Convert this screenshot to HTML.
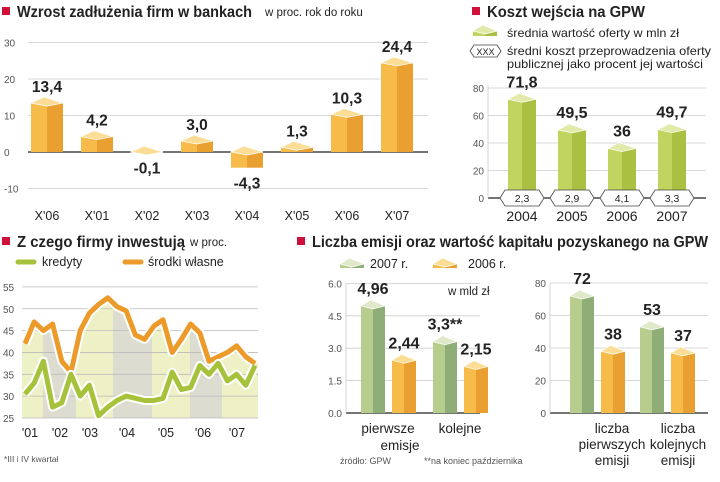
<!DOCTYPE html>
<html><head><meta charset="utf-8"><style>
body{margin:0;background:#fff;width:720px;height:477px;overflow:hidden}
svg{font-family:"Liberation Sans",sans-serif}
</style></head><body>
<svg id="s" width="720" height="477" viewBox="0 0 720 477" xmlns="http://www.w3.org/2000/svg"></svg>
<script>
// Chart 1 data
const c1Cats=["X'06","X'01","X'02","X'03","X'04","X'05","X'06","X'07"];
const c1Vals=[13.4,4.2,-0.1,3.0,-4.3,1.3,10.3,24.4];
const c1Labels=["13,4","4,2","-0,1","3,0","-4,3","1,3","10,3","24,4"];
const c1Ticks=[30,20,10,0,-10];
// Chart 2 data
const c2Cats=["2004","2005","2006","2007"];
const c2Vals=[71.8,49.5,36,49.7];
const c2Labels=["71,8","49,5","36","49,7"];
const c2Cost=["2,3","2,9","4,1","3,3"];
const c2Ticks=[80,60,40,20,0];
// Chart 3 data
const c3Years=["'01","'02","'03","'04","'05","'06","'07"];
const c3Kredyty=[30.5,33,38,27.5,28.5,35,30,32.5,25.5,27.5,29,30,29.5,29,29,29.5,35.5,31.5,32,37,35,37.5,33.5,35,32.5,37];
const c3Wlasne=[42,47,45,46.5,38,35.5,45,49,51,52.5,50.5,49.5,44,43,46,47.5,40,43,46.5,44.5,38,39,40,41.5,39,37.5];
const c3Ticks=[55,50,45,40,35,30,25];
// Chart 4 data
const c4Cats=["pierwsze","kolejne"];
const c4V2007=[4.96,3.3];
const c4V2006=[2.44,2.15];
const c4L2007=["4,96","3,3**"];
const c4L2006=["2,44","2,15"];
const c4Ticks=[6.0,4.5,3.0,1.5,0.0];
// Chart 5 data
const c5Cats=["liczba pierwszych emisji","liczba kolejnych emisji"];
const c5V2007=[72,53];
const c5V2006=[38,37];
const c5Ticks=[80,60,40,20,0];

const S=document.getElementById('s');
const NS='http://www.w3.org/2000/svg';
function mk(tag,attrs,parent){const e=document.createElementNS(NS,tag);for(const k in attrs)e.setAttribute(k,attrs[k]);(parent||S).appendChild(e);return e;}
function txt(x,y,t,size,opts,parent){const e=mk('text',Object.assign({x:x,y:y,'font-size':size,fill:'#222'},opts||{}),parent);e.textContent=t;return e;}
const OR={l:'#f6bb48',r:'#eaa030',t:'#fbdd95'};
const GR={l:'#c2d460',r:'#a9c043',t:'#e1eaa8'};
const SG={l:'#b7cd8e',r:'#8fad77',t:'#dfe9c9'};
function bar3d(g,cx,w,y0,y1,col){
  const top=Math.min(y0,y1),bot=Math.max(y0,y1),h=6;
  mk('rect',{x:cx-w/2,y:top,width:w/2,height:bot-top,fill:col.l},g);
  mk('rect',{x:cx,y:top,width:w/2,height:bot-top,fill:col.r},g);
  mk('polygon',{points:`${cx-w/2},${top} ${cx-w*0.1},${top-h} ${cx+w/2},${top} ${cx},${top+h*0.5}`,fill:col.t,stroke:'#fff','stroke-width':0.7},g);
}
function title(x,y,t,len,sub,subx){
  const g=mk('g',{});
  
  
  mk('rect',{x:x,y:y-10,width:8,height:8,fill:'#d0103a'},g);
  txt(x+15,y,t,15.5,{'font-weight':'bold',textLength:len,lengthAdjust:'spacingAndGlyphs'},g);
  if(sub)txt(subx,y-1,sub,11.5,{},g);
}
// ---------- Chart 1
title(2,17,'Wzrost zadłużenia firm w bankach',235,'w proc. rok do roku',265);
{
 const g=mk('g',{});
 const y=v=>152-v*3.65, x=i=>47+i*50;
 c1Ticks.forEach(t=>{mk('line',{x1:28,x2:428,y1:y(t),y2:y(t),stroke:t===0?'#222':'#ccc','stroke-width':t===0?1.2:0.8},g);txt(4,y(t)+4,String(t),10,{fill:'#555'},g);});
 c1Vals.forEach((v,i)=>{
  const b=mk('g',{},g);
  bar3d(b,x(i),32,y(0),y(v),OR);
  const ly=v>=0?y(v)-11:y(v)+21;
  txt(x(i),ly,c1Labels[i],15.5,{'font-weight':'bold','text-anchor':'middle'},b);
  txt(x(i),220,c1Cats[i],12.5,{'text-anchor':'middle'},b);
 });
}
// ---------- Chart 2
title(472,17,'Koszt wejścia na GPW',158);
{
 const g=mk('g',{});
 bar3d(g,485,24,31,36,GR);
 txt(507,37,'średnia wartość oferty w mln zł',12,{textLength:172,lengthAdjust:'spacingAndGlyphs'},g);
 mk('polygon',{points:'470,51 474,45 497,45 501,51 497,57 474,57',fill:'#fff',stroke:'#444','stroke-width':0.8},g);
 txt(485.5,55,'XXX',9,{'text-anchor':'middle'},g);
 txt(507,55,'średni koszt przeprowadzenia oferty',12,{textLength:204,lengthAdjust:'spacingAndGlyphs'},g);
 txt(507,68,'publicznej jako procent jej wartości',12,{textLength:196,lengthAdjust:'spacingAndGlyphs'},g);
 const y=v=>198-v*1.375, x=i=>522+i*50;
 c2Ticks.forEach(t=>{mk('line',{x1:488,x2:706,y1:y(t),y2:y(t),stroke:t===0?'#222':'#ccc','stroke-width':t===0?1.2:0.8},g);txt(484,y(t)+4,String(t),10,{fill:'#555','text-anchor':'end'},g);});
 mk('line',{x1:488,x2:488,y1:85,y2:198,stroke:'#ccc','stroke-width':0.8},g);
 c2Vals.forEach((v,i)=>{
  const b=mk('g',{},g);
  bar3d(b,x(i),28,y(0),y(v),GR);
  txt(x(i),y(v)-12,c2Labels[i],16,{'font-weight':'bold','text-anchor':'middle'},b);
  const c=x(i);
  mk('polygon',{points:`${c-22},198 ${c-17},190 ${c+17},190 ${c+22},198 ${c+17},206 ${c-17},206`,fill:'#fff',stroke:'#444','stroke-width':0.8},b);
  txt(c,202,c2Cost[i],10.5,{'text-anchor':'middle'},b);
  txt(c,221,c2Cats[i],14,{'text-anchor':'middle'},b);
 });
}
// ---------- Chart 3
title(2,247,'Z czego firmy inwestują',168,'w proc.',190);
{
 const g=mk('g',{});
 mk('line',{x1:18,x2:34,y1:262,y2:262,stroke:'#a6c23a','stroke-width':5,'stroke-linecap':'round'},g);
 txt(42,266,'kredyty',12.5,{},g);
 mk('line',{x1:125,x2:141,y1:262,y2:262,stroke:'#ec9a2a','stroke-width':5,'stroke-linecap':'round'},g);
 txt(148,266,'środki własne',12.5,{},g);
 const y=v=>418-(v-25)*4.37, x=i=>25+i*9.2;
 const path=a=>a.map((v,i)=>(i?'L':'M')+x(i).toFixed(1)+','+y(v).toFixed(1)).join('');
 const clip=mk('clipPath',{id:'under'},g);
 mk('path',{d:path(c3Wlasne)+`L258,${y(37.5)}L258,418L22,418L22,${y(c3Wlasne[0])}Z`},clip);
 const bg=mk('g',{'clip-path':'url(#under)'},g);
 const bands=[[22,43,'#eef0c6'],[43,76,'#dcdcd0'],[76,113,'#eef0c6'],[113,152,'#dcdcd0'],[152,190,'#eef0c6'],[190,222,'#dcdcd0'],[222,258,'#eef0c6']];
 bands.forEach(b=>mk('rect',{x:b[0],y:280,width:b[1]-b[0],height:140,fill:b[2]},bg));
 c3Ticks.forEach(t=>{mk('line',{x1:22,x2:258,y1:y(t),y2:y(t),stroke:'#bbb','stroke-width':0.8},g);txt(3,y(t)+4,String(t),10,{fill:'#555'},g);});
 const yearX=[30,60,90,127,166,203,237];
 c3Years.forEach((t,i)=>txt(yearX[i],437,t,12.5,{'text-anchor':'middle'},g));
 [[c3Wlasne,'#ec9a2a','line-srodki-wlasne'],[c3Kredyty,'#a6c23a','line-kredyty']].forEach(([a,c,n])=>{
  mk('path',{d:path(a),fill:'none',stroke:'#fff','stroke-width':9,'stroke-linejoin':'round'},g);
  const p=mk('path',{d:path(a),fill:'none',stroke:c,'stroke-width':5,'stroke-linejoin':'round'},g);
  
  
 });
 txt(4,462,'*III i IV kwartał',8.5,{fill:'#555'},g);
}
// ---------- Chart 4 & 5
title(297,247,'Liczba emisji oraz wartość kapitału pozyskanego na GPW',396);
{
 const g=mk('g',{});
 bar3d(g,352,24,264,268,SG);txt(370,268,'2007 r.',12.5,{},g);
 bar3d(g,445,24,264,268,OR);txt(468,268,'2006 r.',12.5,{},g);
}
{
 const g=mk('g',{});
 const y=v=>413-v*21.6;
 c4Ticks.forEach(t=>{mk('line',{x1:346,x2:480,y1:y(t),y2:y(t),stroke:t===0?'#222':'#ccc','stroke-width':t===0?1.2:0.8},g);txt(342,y(t)+4,t.toFixed(1),10,{fill:'#555','text-anchor':'end'},g);});
 mk('line',{x1:346,x2:346,y1:283,y2:413,stroke:'#ccc','stroke-width':0.8},g);
 txt(448,295,'w mld zł',11.5,{},g);
 c4Cats.forEach((c,i)=>{
  const gx=373+i*72;
  const b1=mk('g',{},g);
  bar3d(b1,gx,24,y(0),y(c4V2007[i]),SG);
  txt(gx,y(c4V2007[i])-12,c4L2007[i],16,{'font-weight':'bold','text-anchor':'middle'},b1);
  const b2=mk('g',{},g);
  bar3d(b2,gx+31,24,y(0),y(c4V2006[i]),OR);
  txt(gx+31,y(c4V2006[i])-12,c4L2006[i],16,{'font-weight':'bold','text-anchor':'middle'},b2);
 });
 txt(388,433,'pierwsze',13.5,{'text-anchor':'middle'},g);
 txt(400,450,'emisje',13.5,{'text-anchor':'middle'},g);
 txt(460,433,'kolejne',13.5,{'text-anchor':'middle'},g);
 txt(340,464,'źródło: GPW',9,{fill:'#555'},g);
 txt(424,464,'**na koniec października',9,{fill:'#555'},g);
}
{
 const g=mk('g',{});
 const y=v=>413-v*1.625;
 c5Ticks.forEach(t=>{mk('line',{x1:550,x2:708,y1:y(t),y2:y(t),stroke:t===0?'#222':'#ccc','stroke-width':t===0?1.2:0.8},g);txt(546,y(t)+4,String(t),10,{fill:'#555','text-anchor':'end'},g);});
 mk('line',{x1:550,x2:550,y1:283,y2:413,stroke:'#ccc','stroke-width':0.8},g);
 c5Cats.forEach((c,i)=>{
  const gx=582+i*70;
  const b1=mk('g',{},g);
  bar3d(b1,gx,24,y(0),y(c5V2007[i]),SG);
  txt(gx,y(c5V2007[i])-12,String(c5V2007[i]),16,{'font-weight':'bold','text-anchor':'middle'},b1);
  const b2=mk('g',{},g);
  bar3d(b2,gx+31,24,y(0),y(c5V2006[i]),OR);
  txt(gx+31,y(c5V2006[i])-12,String(c5V2006[i]),16,{'font-weight':'bold','text-anchor':'middle'},b2);
  const w=c.split(' ');
  const cx=i?678:612;
  txt(cx,433,w[0],13.5,{'text-anchor':'middle'},g);
  txt(cx,449,w[1],13.5,{'text-anchor':'middle'},g);
  txt(cx,465,w[2],13.5,{'text-anchor':'middle'},g);
 });
}
</script>
</body></html>
